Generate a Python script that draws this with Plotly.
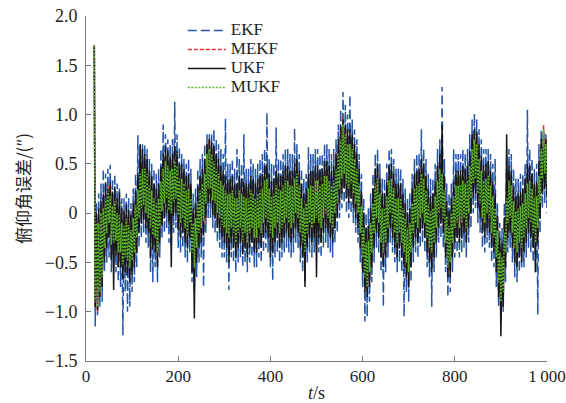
import plotly.graph_objects as go

# time (s): first sample, then every 2.5 s up to 1000 s
t = [18] + [20 + 2.5 * i for i in range(393)]

ekf = [1.7,
       -1.15, 0.1, -1.05, 0.2, -0.95, 0.3, -0.9, 0.45, -0.6, 0.4, -0.5, 0.45, -0.45, 0.49, -0.6, 0.35, -0.55, 0.4, -0.6, 0.3,
       -0.7, 0.25, -0.75, 0.15, -1.24, 0.15, -0.8, 0.2, -1.0, 0.15, -0.95, 0.1, -0.8, 0.25, -0.7, 0.4, -0.55, 0.79, -0.35, 0.7,
       -0.25, 0.7, -0.2, 0.7, -0.3, 0.65, -0.35, 0.55, -0.6, 0.5, -0.7, 0.45, -0.55, 0.4, -0.7, 0.45, -0.45, 0.65, -0.25, 0.9,
       -0.2, 0.8, -0.15, 0.75, -0.3, 0.7, -0.35, 0.75, -0.2, 1.13, -0.15, 0.8, -0.35, 0.67, -0.4, 0.6, -0.35, 0.55, -0.45, 0.5,
       -0.5, 0.55, -0.4, 0.45, -0.7, 0.2, -0.8, 0.25, -0.65, 0.45, -0.5, 0.55, -0.45, 0.6, -0.75, 0.7, -0.2, 0.8, -0.05, 0.8,
       -0.05, 0.8, -0.15, 0.85, -0.2, 0.75, -0.3, 0.7, -0.35, 0.65, -0.45, 0.6, -0.45, 0.96, -0.5, 0.5, -0.78, 0.5, -0.45, 0.55,
       -0.5, 0.45, -0.6, 0.65, -0.5, 0.55, -0.45, 0.5, -0.55, 0.8, -0.5, 0.45, -0.6, 0.45, -0.5, 0.55, -0.45, 0.5, -0.55, 0.45,
       -0.55, 0.5, -0.45, 0.55, -0.5, 0.6, -0.4, 0.65, -0.35, 1.02, -0.4, 0.55, -0.55, 0.5, -0.68, 0.5, -0.45, 0.87, -0.4, 0.55,
       -0.5, 0.55, -0.45, 0.6, -0.4, 0.65, -0.35, 0.65, -0.4, 0.6, -0.45, 0.6, -0.4, 0.86, -0.3, 0.7, -0.35, 0.6, -0.5, 0.45,
       -0.6, 0.35, -0.7, 0.4, -0.5, 0.67, -0.4, 0.6, -0.45, 0.6, -0.4, 0.65, -0.35, 0.65, -0.4, 0.6, -0.45, 0.6, -0.35, 0.7,
       -0.3, 0.7, -0.35, 0.65, -0.4, 0.6, -0.45, 0.65, -0.3, 0.75, -0.2, 0.9, -0.05, 1.05, 0.05, 1.23, 0.1, 1.1, 0.0, 1.0,
       -0.05, 1.2, 0.0, 0.95, -0.1, 0.85, -0.2, 0.75, -0.3, 0.6, -0.5, 0.4, -0.75, 0.15, -1.1, 0.0, -1.05, 0.05, -0.9, 0.2,
       -0.7, 0.4, -0.5, 0.6, -0.35, 0.65, -0.4, 0.5, -0.6, 0.35, -0.95, 0.35, -0.6, 0.5, -0.45, 0.65, -0.3, 0.65, -0.4, 0.55,
       -0.5, 0.45, -0.6, 0.45, -0.5, 0.45, -0.6, 0.35, -1.05, 0.25, -0.8, 0.15, -0.9, 0.2, -0.7, 0.4, -0.5, 0.55, -0.4, 0.6,
       -0.45, 0.6, -0.35, 0.85, -0.3, 0.65, -0.4, 0.55, -0.55, 0.4, -0.65, 0.35, -0.95, 0.35, -0.6, 0.5, -0.45, 0.65, -0.3, 0.75,
       -0.25, 1.28, -0.35, 0.55, -0.6, 0.3, -0.85, 0.2, -0.8, 0.3, -0.6, 0.65, -0.45, 0.6, -0.4, 0.6, -0.45, 0.6, -0.4, 0.65,
       -0.35, 0.6, -0.45, 0.65, -0.3, 0.8, -0.15, 0.95, 0.0, 1.01, 0.05, 0.95, -0.1, 0.85, -0.2, 0.75, -0.35, 0.65, -0.4, 0.65,
       -0.3, 0.65, -0.35, 0.6, -0.5, 0.5, -0.55, 0.55, -0.75, 0.1, -0.95, -0.1, -1.1, -0.15, -1.0, 0.1, -0.7, 0.6, -0.4, 0.65,
       -0.35, 0.6, -0.5, 0.45, -0.65, 0.35, -0.7, 0.35, -0.6, 0.4, -0.55, 0.4, -0.55, 0.5, -0.45, 1.05, -0.35, 0.65, -0.4, 0.55,
       -0.5, 0.45, -0.6, 0.5, -1.03, 0.7, -0.2, 0.85, 0.05, 0.85, 0.1, 0.8, 0.0]

mekf = [1.7,
        -0.95, -0.05, -1.0, -0.05, -0.85, 0.05, -0.7, 0.1, -0.4, 0.2, -0.25, 0.28, -0.15, 0.22, -0.37, 0.12, -0.35, 0.17, -0.33, 0.05,
        -0.45, 0.03, -0.45, -0.05, -0.57, -0.08, -0.5, -0.01, -0.53, -0.07, -0.6, -0.12, -0.53, 0.0, -0.45, 0.13, -0.3, 0.29, -0.1, 0.45,
        0.0, 0.5, 0.03, 0.52, -0.05, 0.45, -0.1, 0.33, -0.2, 0.28, -0.27, 0.2, -0.3, 0.15, -0.45, 0.2, -0.2, 0.37, -0.03, 0.5,
        0.05, 0.58, 0.1, 0.53, -0.02, 0.48, -0.05, 0.5, 0.07, 0.58, 0.1, 0.53, -0.07, 0.4, -0.15, 0.4, -0.1, 0.35, -0.2, 0.28,
        -0.25, 0.3, -0.15, 0.2, -0.45, -0.05, -0.6, 0.0, -0.4, 0.17, -0.25, 0.28, -0.2, 0.35, -0.13, 0.45, 0.05, 0.7, 0.2, 0.75,
        0.2, 0.65, 0.08, 0.58, 0.05, 0.5, -0.05, 0.45, -0.1, 0.38, -0.17, 0.33, -0.2, 0.28, -0.25, 0.24, -0.3, 0.25, -0.2, 0.28,
        -0.25, 0.2, -0.35, 0.2, -0.25, 0.28, -0.2, 0.25, -0.32, 0.22, -0.25, 0.2, -0.35, 0.2, -0.25, 0.28, -0.2, 0.25, -0.3, 0.2,
        -0.3, 0.25, -0.2, 0.28, -0.25, 0.3, -0.15, 0.38, -0.1, 0.4, -0.15, 0.3, -0.25, 0.22, -0.3, 0.25, -0.2, 0.33, -0.15, 0.3,
        -0.25, 0.28, -0.2, 0.33, -0.15, 0.38, -0.1, 0.38, -0.15, 0.33, -0.2, 0.33, -0.15, 0.4, -0.05, 0.45, -0.1, 0.33, -0.25, 0.2,
        -0.35, 0.1, -0.45, 0.15, -0.25, 0.3, -0.15, 0.33, -0.2, 0.33, -0.15, 0.38, -0.1, 0.38, -0.15, 0.33, -0.2, 0.35, -0.1, 0.43,
        -0.05, 0.43, -0.1, 0.38, -0.15, 0.33, -0.2, 0.38, -0.05, 0.5, 0.05, 0.65, 0.2, 0.85, 0.3, 1.0, 0.35, 0.85, 0.25, 0.75,
        0.2, 0.75, 0.25, 0.7, 0.15, 0.6, 0.05, 0.5, -0.05, 0.35, -0.25, 0.12, -0.5, -0.1, -0.7, -0.25, -0.8, -0.23, -0.65, -0.05,
        -0.45, 0.15, -0.25, 0.35, -0.1, 0.4, -0.15, 0.25, -0.35, 0.1, -0.45, 0.1, -0.35, 0.22, -0.2, 0.38, -0.05, 0.4, -0.15, 0.3,
        -0.25, 0.2, -0.35, 0.2, -0.25, 0.2, -0.35, 0.1, -0.45, 0.0, -0.55, -0.1, -0.65, -0.05, -0.45, 0.15, -0.25, 0.3, -0.15, 0.33,
        -0.2, 0.35, -0.1, 0.45, -0.05, 0.4, -0.15, 0.28, -0.35, 0.15, -0.45, 0.07, -0.5, 0.1, -0.35, 0.22, -0.2, 0.38, -0.05, 0.5,
        0.0, 0.45, -0.1, 0.28, -0.35, 0.02, -0.6, -0.08, -0.55, 0.05, -0.35, 0.22, -0.2, 0.33, -0.15, 0.33, -0.2, 0.33, -0.15, 0.38,
        -0.1, 0.35, -0.2, 0.38, -0.05, 0.53, 0.1, 0.7, 0.25, 0.8, 0.3, 0.75, 0.15, 0.6, 0.05, 0.48, -0.1, 0.38, -0.15, 0.4,
        -0.05, 0.43, -0.1, 0.33, -0.25, 0.22, -0.3, 0.1, -0.5, -0.13, -0.75, -0.35, -0.95, -0.4, -0.85, -0.15, -0.45, 0.2, -0.15, 0.38,
        -0.1, 0.33, -0.25, 0.17, -0.4, 0.07, -0.45, 0.1, -0.35, 0.12, -0.4, 0.15, -0.3, 0.25, -0.2, 0.35, -0.1, 0.38, -0.15, 0.3,
        -0.25, 0.2, -0.35, 0.22, -0.2, 0.43, 0.05, 0.7, 0.3, 0.9, 0.35, 0.75, 0.25]

ukf = [1.7,
       -0.95, 0.0, -0.98, 0.05, -0.85, 0.12, -0.75, 0.2, -0.5, 0.3, -0.35, 0.25, -0.25, 0.32, -0.47, 0.22, -0.78, 0.27, -0.43, 0.15,
       -0.55, 0.22, -0.55, 0.05, -0.67, 0.02, -0.6, 0.09, -0.63, 0.03, -0.7, -0.02, -0.63, 0.1, -0.55, 0.23, -0.4, 0.39, -0.2, 0.7,
       -0.1, 0.65, -0.07, 0.6, -0.15, 0.55, -0.2, 0.43, -0.45, 0.38, -0.37, 0.3, -0.4, 0.25, -0.55, 0.3, -0.3, 0.47, -0.13, 0.6,
       -0.05, 0.68, 0.0, 0.63, -0.12, 0.58, -0.55, 0.6, -0.03, 0.68, 0.0, 0.63, -0.17, 0.5, -0.25, 0.5, -0.2, 0.45, -0.3, 0.38,
       -0.35, 0.4, -0.25, 0.3, -0.6, 0.05, -1.07, 0.1, -0.5, 0.27, -0.35, 0.38, -0.3, 0.45, -0.23, 0.55, -0.05, 0.7, 0.1, 0.75,
       0.1, 0.72, -0.02, 0.68, -0.05, 0.6, -0.15, 0.55, -0.2, 0.48, -0.27, 0.43, -0.3, 0.38, -0.35, 0.34, -0.5, 0.35, -0.3, 0.38,
       -0.35, 0.3, -0.45, 0.3, -0.35, 0.38, -0.3, 0.35, -0.42, 0.32, -0.35, 0.3, -0.45, 0.3, -0.35, 0.38, -0.3, 0.35, -0.4, 0.3,
       -0.4, 0.35, -0.3, 0.38, -0.35, 0.4, -0.25, 0.48, -0.2, 0.5, -0.25, 0.4, -0.45, 0.32, -0.4, 0.35, -0.3, 0.43, -0.25, 0.4,
       -0.35, 0.38, -0.3, 0.43, -0.25, 0.48, -0.2, 0.48, -0.25, 0.43, -0.3, 0.43, -0.25, 0.5, -0.15, 0.55, -0.2, 0.43, -0.35, 0.3,
       -0.45, 0.2, -0.75, 0.25, -0.35, 0.4, -0.25, 0.43, -0.3, 0.43, -0.25, 0.48, -0.65, 0.48, -0.25, 0.43, -0.3, 0.45, -0.2, 0.53,
       -0.15, 0.53, -0.2, 0.48, -0.25, 0.43, -0.3, 0.48, -0.15, 0.6, -0.05, 0.75, 0.1, 0.88, 0.2, 0.95, 0.25, 0.9, 0.15, 0.85,
       0.1, 0.85, 0.15, 0.8, 0.05, 0.7, -0.05, 0.6, -0.15, 0.45, -0.35, 0.22, -0.6, 0.0, -0.8, -0.15, -0.85, -0.13, -0.75, 0.05,
       -0.55, 0.25, -0.35, 0.45, -0.2, 0.5, -0.25, 0.35, -0.45, 0.2, -0.55, 0.2, -0.45, 0.32, -0.3, 0.48, -0.15, 0.5, -0.25, 0.4,
       -0.35, 0.3, -0.45, 0.3, -0.35, 0.3, -0.45, 0.2, -0.55, 0.1, -0.65, 0.0, -0.75, 0.05, -0.55, 0.25, -0.35, 0.4, -0.25, 0.43,
       -0.3, 0.45, -0.2, 0.55, -0.15, 0.5, -0.25, 0.38, -0.4, 0.25, -0.5, 0.17, -0.6, 0.2, -0.45, 0.32, -0.3, 0.48, -0.15, 0.6,
       -0.1, 0.9, -0.2, 0.38, -0.45, 0.12, -0.65, 0.02, -0.65, 0.15, -0.45, 0.32, -0.3, 0.43, -0.25, 0.43, -0.3, 0.43, -0.25, 0.48,
       -0.2, 0.45, -0.3, 0.48, -0.15, 0.63, 0.0, 0.8, 0.15, 0.85, 0.2, 0.82, 0.05, 0.7, -0.05, 0.58, -0.2, 0.48, -0.25, 0.5,
       -0.15, 0.53, -0.2, 0.43, -0.35, 0.32, -0.4, 0.2, -0.6, -0.03, -0.85, -0.25, -1.25, -0.3, -0.95, -0.05, -0.55, 0.8, -0.25, 0.48,
       -0.2, 0.43, -0.35, 0.27, -0.5, 0.17, -0.55, 0.2, -0.45, 0.22, -0.5, 0.25, -0.4, 0.35, -0.3, 0.5, -0.2, 0.48, -0.25, 0.4,
       -0.35, 0.3, -0.6, 0.32, -0.3, 0.53, -0.05, 0.75, 0.2, 0.8, 0.25, 0.75, 0.15]

mukf = [1.7,
        -0.9, -0.1, -0.95, -0.1, -0.8, 0.0, -0.65, 0.05, -0.35, 0.15, -0.2, 0.23, -0.1, 0.17, -0.32, 0.07, -0.3, 0.12, -0.28, 0.0,
        -0.4, -0.02, -0.4, -0.1, -0.52, -0.13, -0.45, -0.06, -0.48, -0.12, -0.55, -0.17, -0.48, -0.05, -0.4, 0.08, -0.25, 0.24, -0.05, 0.4,
        0.05, 0.45, 0.08, 0.45, 0.0, 0.4, -0.05, 0.28, -0.15, 0.23, -0.22, 0.15, -0.25, 0.1, -0.4, 0.15, -0.15, 0.32, 0.02, 0.45,
        0.1, 0.53, 0.15, 0.48, 0.03, 0.43, 0.0, 0.45, 0.12, 0.53, 0.15, 0.48, -0.02, 0.35, -0.1, 0.35, -0.05, 0.3, -0.15, 0.23,
        -0.2, 0.25, -0.1, 0.15, -0.4, -0.1, -0.55, -0.05, -0.35, 0.12, -0.2, 0.23, -0.15, 0.3, -0.08, 0.4, 0.1, 0.6, 0.25, 0.65,
        0.25, 0.6, 0.13, 0.53, 0.1, 0.45, 0.0, 0.4, -0.05, 0.33, -0.12, 0.28, -0.15, 0.23, -0.2, 0.19, -0.25, 0.2, -0.15, 0.23,
        -0.2, 0.15, -0.3, 0.15, -0.2, 0.23, -0.15, 0.2, -0.27, 0.17, -0.2, 0.15, -0.3, 0.15, -0.2, 0.23, -0.15, 0.2, -0.25, 0.15,
        -0.25, 0.2, -0.15, 0.23, -0.2, 0.25, -0.1, 0.33, -0.05, 0.35, -0.1, 0.25, -0.2, 0.17, -0.25, 0.2, -0.15, 0.28, -0.1, 0.25,
        -0.2, 0.23, -0.15, 0.28, -0.1, 0.33, -0.05, 0.33, -0.1, 0.28, -0.15, 0.28, -0.1, 0.35, 0.0, 0.4, -0.05, 0.28, -0.2, 0.15,
        -0.3, 0.05, -0.4, 0.1, -0.2, 0.25, -0.1, 0.28, -0.15, 0.28, -0.1, 0.33, -0.05, 0.33, -0.1, 0.28, -0.15, 0.3, -0.05, 0.38,
        0.0, 0.38, -0.05, 0.33, -0.1, 0.28, -0.15, 0.33, 0.0, 0.45, 0.1, 0.6, 0.25, 0.75, 0.35, 0.9, 0.4, 0.8, 0.3, 0.7,
        0.25, 0.7, 0.3, 0.65, 0.2, 0.55, 0.1, 0.45, 0.0, 0.3, -0.2, 0.07, -0.45, -0.15, -0.65, -0.3, -0.75, -0.28, -0.6, -0.1,
        -0.4, 0.1, -0.2, 0.3, -0.05, 0.35, -0.1, 0.2, -0.3, 0.05, -0.4, 0.05, -0.3, 0.17, -0.15, 0.33, 0.0, 0.35, -0.1, 0.25,
        -0.2, 0.15, -0.3, 0.15, -0.2, 0.15, -0.3, 0.05, -0.4, -0.05, -0.5, -0.15, -0.6, -0.1, -0.4, 0.1, -0.2, 0.25, -0.1, 0.28,
        -0.15, 0.3, -0.05, 0.4, 0.0, 0.35, -0.1, 0.23, -0.25, 0.1, -0.35, 0.02, -0.4, 0.05, -0.3, 0.17, -0.15, 0.33, 0.0, 0.45,
        0.05, 0.4, -0.05, 0.23, -0.3, -0.03, -0.55, -0.13, -0.5, 0.0, -0.3, 0.17, -0.15, 0.28, -0.1, 0.28, -0.15, 0.28, -0.1, 0.33,
        -0.05, 0.3, -0.15, 0.33, 0.0, 0.48, 0.15, 0.65, 0.3, 0.75, 0.35, 0.7, 0.2, 0.55, 0.1, 0.43, -0.05, 0.33, -0.1, 0.35,
        0.0, 0.38, -0.05, 0.28, -0.2, 0.17, -0.25, 0.05, -0.45, -0.18, -0.7, -0.4, -0.9, -0.45, -0.8, -0.2, -0.4, 0.15, -0.1, 0.33,
        -0.05, 0.28, -0.2, 0.12, -0.35, 0.02, -0.4, 0.05, -0.3, 0.07, -0.35, 0.1, -0.25, 0.2, -0.15, 0.3, -0.05, 0.33, -0.1, 0.25,
        -0.2, 0.15, -0.3, 0.17, -0.15, 0.38, 0.1, 0.65, 0.35, 0.85, 0.4, 0.7, 0.3]

y_ticks = [-1.5, -1.0, -0.5, 0, 0.5, 1.0, 1.5, 2.0]
y_labels = ["\u22121.5", "\u22121.0", "\u22120.5", "0", "0.5", "1.0", "1.5", "2.0"]
x_ticks = [0, 200, 400, 600, 800, 1000]
x_labels = ["0", "200", "400", "600", "800", "1\u2009000"]
series_names = ["EKF", "MEKF", "UKF", "MUKF"]

serif = "Liberation Serif"
txt = "#1e1e1e"


def legend_name(s):
    # small legend font keeps the rows tight, the span restores the visible size
    return '<span style="font-size:17px">%s</span>' % s


fig = go.Figure()
fig.add_trace(go.Scatter(x=t, y=ekf, mode="lines", name=legend_name(series_names[0]),
                         line=dict(color="#2456a8", width=1.5, dash="9px,4px")))
fig.add_trace(go.Scatter(x=t, y=mekf, mode="lines", name=legend_name(series_names[1]),
                         line=dict(color="#f03030", width=1.5, dash="4px,2px")))
fig.add_trace(go.Scatter(x=t, y=ukf, mode="lines", name=legend_name(series_names[2]),
                         line=dict(color="#161616", width=1.5)))
fig.add_trace(go.Scatter(x=t, y=mukf, mode="lines", name=legend_name(series_names[3]),
                         line=dict(color="#5ab82a", width=1.5, dash="2px,1.5px")))

axis_common = dict(showgrid=False, zeroline=False, showline=True,
                   linecolor="#7a7a7a", linewidth=1, ticks="inside",
                   ticklen=5, tickcolor="#7a7a7a", automargin=False,
                   ticklabeloverflow="allow")

fig.update_layout(
    width=566, height=403,
    margin=dict(l=86, r=19, t=16, b=42),
    paper_bgcolor="white", plot_bgcolor="white",
    xaxis=dict(range=[0, 1000], tickvals=x_ticks, ticktext=x_labels,
               tickfont=dict(family=serif, size=17, color=txt),
               title=dict(text="<i>t</i>/s", font=dict(family=serif, size=18, color=txt),
                          standoff=2),
               **axis_common),
    yaxis=dict(range=[-1.5, 2.0], tickvals=y_ticks, ticktext=y_labels,
               ticklabelstandoff=4,
               tickfont=dict(family=serif, size=18, color=txt),
               title=dict(text="俯仰角误差/(″)",
                          font=dict(family="Noto Sans CJK SC", size=17, color=txt),
                          standoff=9),
               **axis_common),
    legend=dict(x=0.21, y=1.0, xanchor="left", yanchor="top",
                bgcolor="rgba(0,0,0,0)", tracegroupgap=0, itemwidth=38,
                font=dict(family=serif, size=12, color=txt)),
    showlegend=True,
)

# drop the default 8px body margin so the 566x403 figure fills the window
fig.write_html("out.html", config={"displayModeBar": False},
               post_script="document.body.style.margin='0';")
